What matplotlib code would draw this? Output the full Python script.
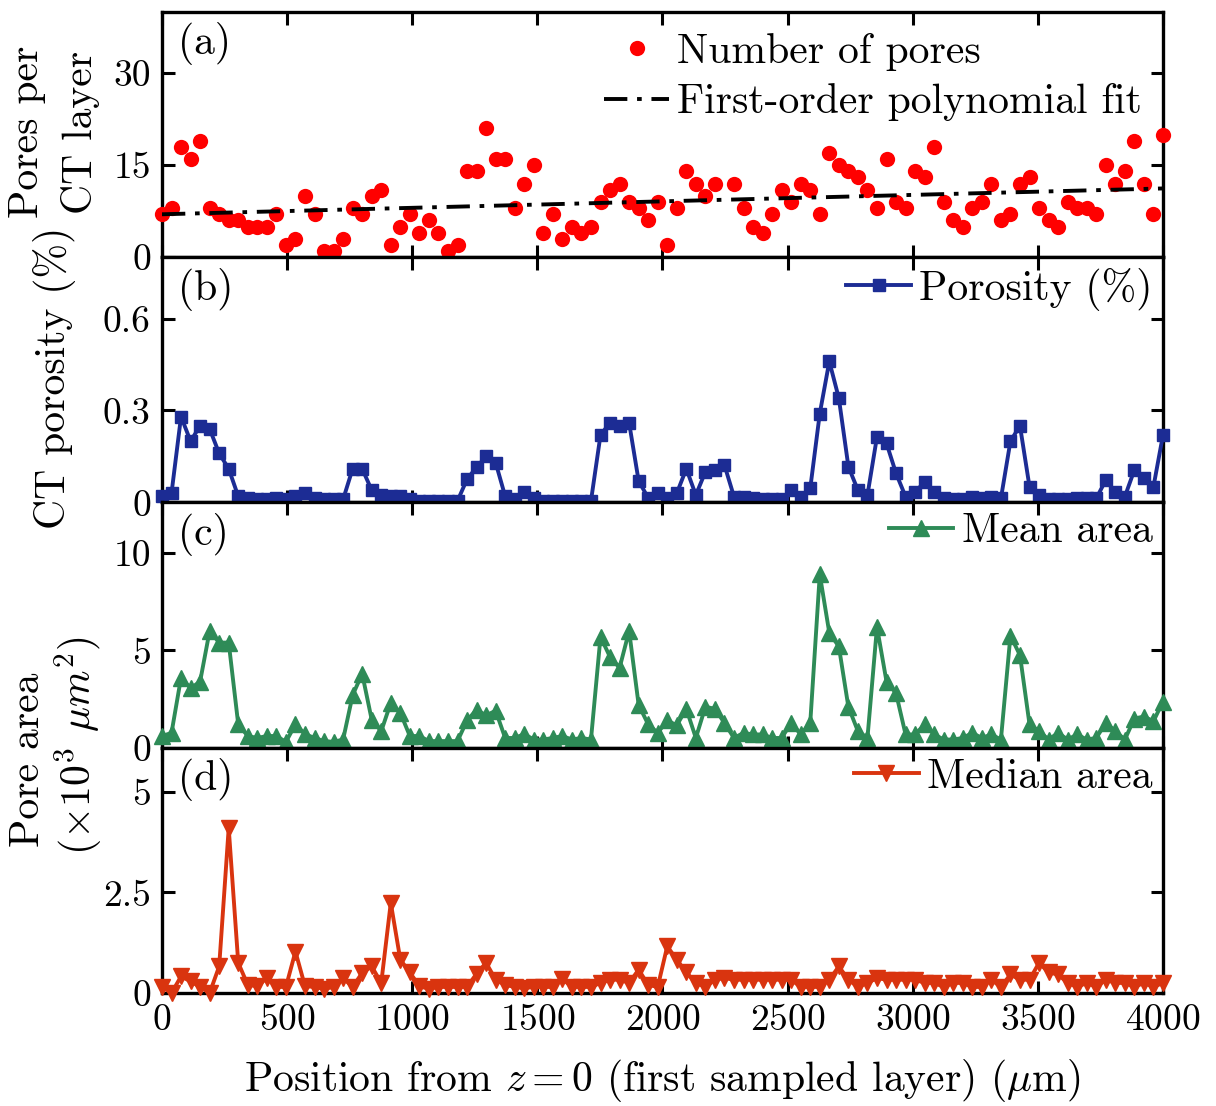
import numpy as np
import matplotlib
matplotlib.use("Agg")
import matplotlib.pyplot as plt

plt.rcParams['font.family'] = 'serif'
plt.rcParams['font.serif'] = ['cmr10']
plt.rcParams['mathtext.fontset'] = 'cm'
plt.rcParams['axes.formatter.use_mathtext'] = True

# sampled CT layers, evenly spaced from z = 0 to 4000 um
n_layers = 106
layer_step = 4000 / (n_layers - 1)
position = np.arange(n_layers) * layer_step

# (a) number of pores per layer
pores = [7, 8, 18, 16, 19, 8, 7, 6, 6, 5, 5, 5, 7, 2, 3, 10, 7, 1, 1, 3,
         8, 7, 10, 11, 2, 5, 7, 4, 6, 4, 1, 2, 14, 14, 21, 16, 16, 8, 12, 15,
         4, 7, 3, 5, 4, 5, 9, 11, 12, 9, 8, 6, 9, 2, 8, 14,
         12, 10, 12, np.nan, 12, 8, 5, 4, 7, 11, 9, 12, 11, 7, 17, 15, 14, 13, 11, 8,
         16, 9, 8, 14, 13, 18, 9, 6, 5, 8, 9, 12, 6, 7, 12, 13, 8, 6, 5, 9,
         8, 8, 7, 15, 12, 14, 19, 12, 7, 20]

# (b) CT porosity (%)
porosity = [0.02, 0.03, 0.28, 0.20, 0.25, 0.24, 0.16, 0.11, 0.02, 0.015,
            0.01, 0.01, 0.015, 0.01, 0.02, 0.03, 0.015, 0.01, 0.01, 0.01,
            0.11, 0.11, 0.04, 0.025, 0.02, 0.02, 0.01, 0.005, 0.005, 0.005,
            0.005, 0.005, 0.076, 0.115, 0.15, 0.13, 0.02, 0.01, 0.035, 0.015,
            0.005, 0.005, 0.005, 0.005, 0.005, 0.005, 0.22, 0.26, 0.25, 0.26,
            0.07, 0.015, 0.03, 0.015, 0.03, 0.11,
            0.024, 0.10, 0.106, 0.122, 0.019, 0.019, 0.013, 0.01, 0.01, 0.01,
            0.04, 0.019, 0.046, 0.29, 0.46, 0.34, 0.117, 0.04, 0.024, 0.214,
            0.193, 0.095, 0.019, 0.033, 0.068, 0.035, 0.013, 0.01, 0.01, 0.019,
            0.015, 0.019, 0.013, 0.2, 0.25, 0.051, 0.024, 0.01, 0.01, 0.01,
            0.015, 0.013, 0.013, 0.073, 0.035, 0.019, 0.106, 0.079, 0.051, 0.22]

# (c) mean pore area (x10^3 um^2)
mean_area = [0.6, 0.76, 3.6, 3.05, 3.4, 6.0, 5.4, 5.4, 1.2, 0.6,
             0.5, 0.6, 0.6, 0.3, 1.2, 0.7, 0.5, 0.34, 0.3, 0.42,
             2.7, 3.8, 1.44, 0.85, 2.3, 1.8, 0.6, 0.6, 0.34, 0.34,
             0.34, 0.34, 1.4, 1.95, 1.66, 1.9, 0.5, 0.5, 0.7, 0.42,
             0.42, 0.5, 0.6, 0.42, 0.5, 0.42, 5.7, 4.66, 4.1, 6.0,
             2.2, 1.2, 0.76, 1.4, 1.15, 2.0,
             0.5, 2.1, 2.0, 1.27, 0.5, 0.76, 0.68, 0.68, 0.5, 0.5,
             1.27, 0.68, 1.27, 8.9, 5.9, 5.2, 2.1, 0.85, 0.5, 6.2,
             3.4, 2.8, 0.68, 0.68, 1.2, 0.68, 0.42, 0.42, 0.5, 0.76,
             0.5, 0.68, 0.42, 5.76, 4.75, 1.2, 0.85, 0.42, 0.76, 0.42,
             0.68, 0.42, 0.5, 1.27, 0.85, 0.42, 1.5, 1.6, 1.36, 2.37]

# (d) median pore area (x10^3 um^2)
median_area = [0.15, 0.0, 0.41, 0.29, 0.15, 0.0, 0.66, 4.1, 0.75, 0.2,
               0.17, 0.37, 0.15, 0.15, 1.03, 0.17, 0.15, 0.1, 0.15, 0.37,
               0.15, 0.5, 0.66, 0.25, 2.24, 0.83, 0.51, 0.17, 0.1, 0.15,
               0.15, 0.15, 0.15, 0.48, 0.75, 0.33, 0.2, 0.15, 0.12, 0.15,
               0.15, 0.15, 0.35, 0.15, 0.15, 0.15, 0.25, 0.33, 0.33, 0.25,
               0.58, 0.2, 0.15, 1.16, 0.83, 0.51,
               0.25, 0.15, 0.33, 0.37, 0.33, 0.33, 0.33, 0.33, 0.33, 0.33,
               0.33, 0.15, 0.15, 0.15, 0.33, 0.66, 0.33, 0.15, 0.25, 0.37,
               0.33, 0.33, 0.33, 0.33, 0.25, 0.25, 0.15, 0.25, 0.25, 0.15,
               0.15, 0.33, 0.15, 0.46, 0.33, 0.33, 0.75, 0.51, 0.46, 0.25,
               0.15, 0.25, 0.15, 0.33, 0.25, 0.25, 0.15, 0.25, 0.15, 0.25]

x_ticks = [0, 500, 1000, 1500, 2000, 2500, 3000, 3500, 4000]
y_ticks = [[0, 15, 30], [0, 0.3, 0.6], [0, 5, 10], [0, 2.5, 5]]
y_tick_labels = [['0', '15', '30'], ['0', '0.3', '0.6'], ['0', '5', '10'], ['0', '2.5', '5']]
y_limits = [(0, 40), (0, 0.8), (0, 12.6), (0, 6.1)]
panel_tags = ['(a)', '(b)', '(c)', '(d)']

fs = 30        # labels / legend
fs_tick = 27   # tick labels

fig, axes = plt.subplots(4, 1, figsize=(12.16, 11.06), dpi=100, sharex=True)
fig.subplots_adjust(left=0.1332, right=0.9564, top=0.9892, bottom=0.1022, hspace=0)

# (a) pores + linear fit
ax = axes[0]
pores_arr = np.array(pores, dtype=float)
ok = ~np.isnan(pores_arr)
coef = np.polyfit(position[ok], pores_arr[ok], 1)
ax.plot(position, pores_arr, 'o', color='#ff0000', ms=11, mec='none',
        label='Number of pores', clip_on=False, zorder=3)
ax.plot([0, 4000], np.polyval(coef, [0, 4000]), color='black', lw=2.8,
        dashes=(6, 2.5, 1.2, 2.5), label='First-order polynomial fit', zorder=4)

axes[1].plot(position, porosity, '-s', color='#1c2c94', lw=2.8, ms=8.5,
             label='Porosity (%)', clip_on=False, zorder=3)
axes[2].plot(position, mean_area, '-^', color='#2e8b57', lw=2.8, ms=11,
             label='Mean area', clip_on=False, zorder=3)
axes[3].plot(position, median_area, '-v', color='#d9340f', lw=2.8, ms=11,
             label='Median area', clip_on=False, zorder=3)

for i, ax in enumerate(axes):
    ax.set_xlim(0, 4000)
    ax.set_ylim(*y_limits[i])
    ax.set_yticks(y_ticks[i])
    ax.set_yticklabels(y_tick_labels[i])
    ax.set_xticks(x_ticks)
    ax.tick_params(direction='in', top=True, right=True, length=9, width=2.2,
                   labelsize=fs_tick, pad=8)
    for sp in ax.spines.values():
        sp.set_linewidth(2.4)
    ax.text(0.016, 0.87, panel_tags[i], transform=ax.transAxes, fontsize=fs,
            va='center', ha='left')
    if i == 0:
        ax.legend(loc='upper right', frameon=False, fontsize=fs, numpoints=1,
                  handlelength=1.55, handletextpad=0.2, borderaxespad=0.3,
                  labelspacing=0.3, borderpad=0.2)
    else:
        ax.legend(loc='upper right', frameon=False, fontsize=fs, numpoints=1,
                  handlelength=1.55, handletextpad=0.2, borderaxespad=0.1,
                  labelspacing=0.12, borderpad=0.15)

axes[3].set_xlabel(r'Position from $z=0$ (first sampled layer) ($\mu$m)',
                   fontsize=fs, labelpad=14)

fig.text(27 / 1216, 1 - 132 / 1106, 'Pores per', rotation=90, fontsize=fs,
         ha='center', va='center')
fig.text(80 / 1216, 1 - 132 / 1106, 'CT layer', rotation=90, fontsize=fs,
         ha='center', va='center')
fig.text(55 / 1216, 1 - 378 / 1106, 'CT porosity (%)', rotation=90, fontsize=fs,
         ha='center', va='center')
fig.text(28 / 1216, 1 - 760 / 1106, 'Pore area', rotation=90, fontsize=fs,
         ha='center', va='center')
fig.text(78 / 1216, 1 - 746 / 1106, r'($\times 10^3$ $\mu m^2$)', rotation=90,
         fontsize=fs, ha='center', va='center')

fig.savefig('out.png', dpi=100)
